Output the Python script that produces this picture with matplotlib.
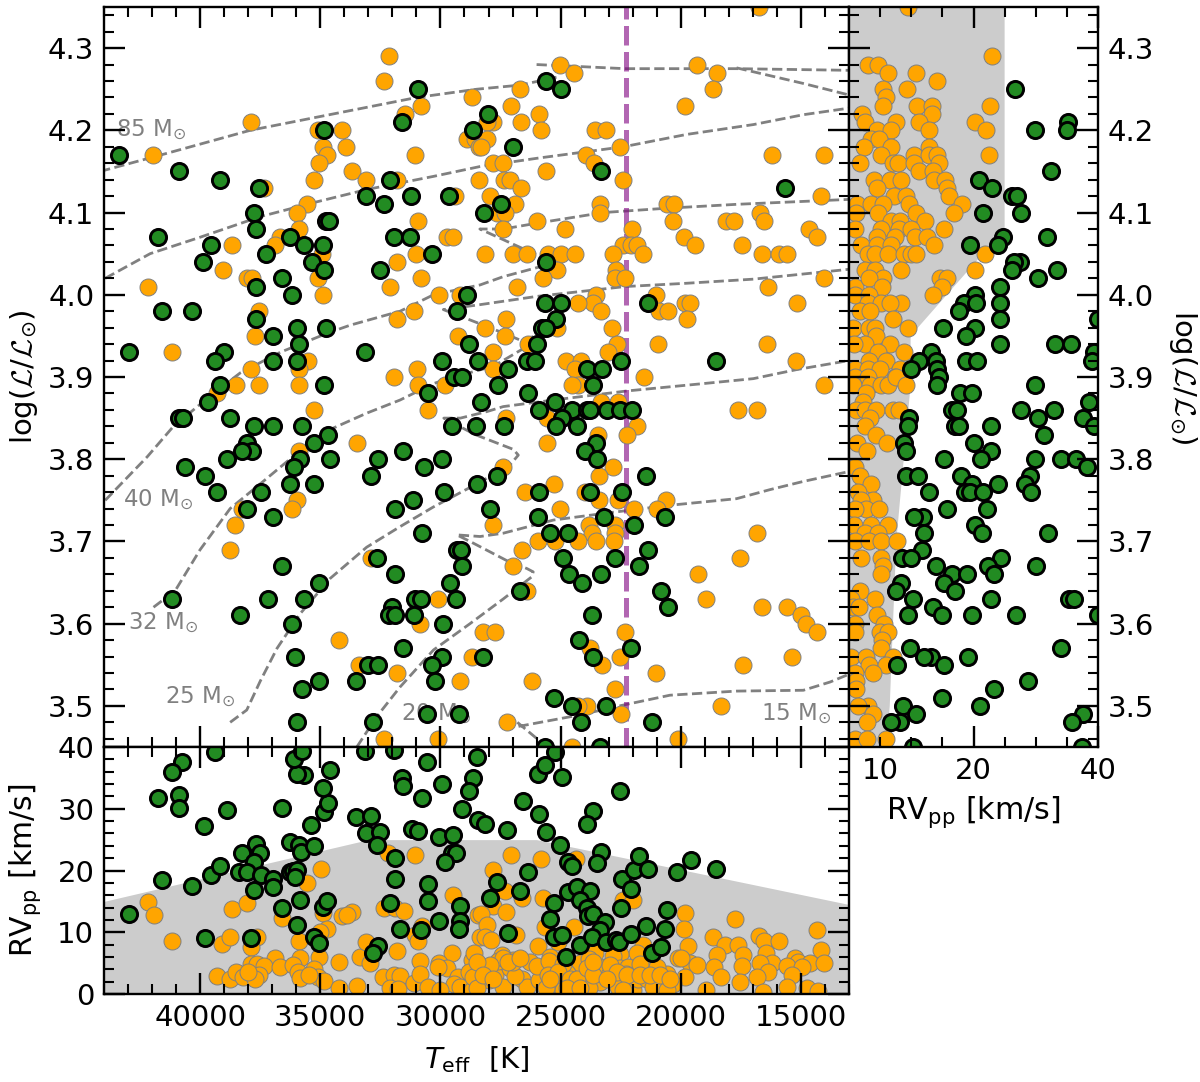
# HRD of the stars with RVpp side panels
import matplotlib
matplotlib.use('Agg')
import matplotlib.pyplot as plt
from matplotlib.ticker import MultipleLocator, FixedLocator, FixedFormatter

plt.rcParams['font.family'] = 'DejaVu Sans'
plt.rcParams['mathtext.fontset'] = 'custom'
plt.rcParams['mathtext.rm'] = 'DejaVu Sans'
plt.rcParams['mathtext.it'] = 'DejaVu Sans:italic'
plt.rcParams['mathtext.bf'] = 'DejaVu Sans:bold'
plt.rcParams['mathtext.cal'] = 'cmsy10'

# main panel (Teff, logL)
main_orange = [
    (32160,4.29),(32330,4.26),(37880,4.21),(31470,4.22),(30790,4.23),(28700,4.24),(41970,4.17),(35080,4.20),
    (34080,4.20),(34870,4.18),(33920,4.18),(34730,4.17),(35060,4.16),(33690,4.15),(35280,4.14),(33090,4.14),
    (31050,4.17),(31820,4.14),(28900,4.19),(28560,4.19),(28400,4.18),(29400,4.12),(28400,4.14),(37360,4.13),
    (35560,4.11),(35950,4.10),(35870,4.08),(36670,4.07),(36880,4.06),(38680,4.06),(39060,4.03),(38060,4.02),
    (37850,4.02),(42180,4.01),(37570,3.98),(37710,3.95),(34940,4.05),(35080,4.02),(34870,4.00),(30940,4.09),
    (29740,4.07),(29460,4.07),(31790,4.04),(31030,4.05),(30820,4.02),(32100,4.01),(30080,4.00),(29180,4.00),
    (31790,3.97),(31120,3.98),(29250,3.95),(41150,3.93),(35530,3.92),(35870,3.91),(37880,3.91),(30960,3.91),
    (31950,3.90),(38510,3.89),(39310,3.88),(37570,3.89),(35870,3.89),(30930,3.89),(29800,3.89),(35280,3.86),
    (30500,3.86),(33480,3.82),(35870,3.81),(35980,3.75),(36190,3.74),(38270,3.74),(38550,3.72),(38750,3.69),
    (32880,3.68),(30120,3.63),(30870,3.60),(34230,3.58),(33370,3.55),(31790,3.54),(28680,3.56),(29180,3.53),
    (32330,3.46),(30110,3.46),
    (25030,4.28),(24450,4.27),(26690,4.25),(27080,4.23),(25900,4.22),(27800,4.21),(28050,4.21),(26650,4.21),
    (25800,4.20),(23570,4.20),(23130,4.20),(28050,4.19),(28330,4.18),(22530,4.18),(23960,4.17),(23610,4.16),
    (27830,4.16),(27390,4.16),(25620,4.15),(22420,4.14),(27340,4.14),(27110,4.14),(26650,4.13),(27940,4.12),
    (26900,4.11),(23350,4.11),(23350,4.10),(27660,4.10),(27320,4.10),(26000,4.09),(27410,4.08),(24820,4.08),
    (22050,4.08),(19340,4.28),(18510,4.27),(18650,4.25),(19830,4.23),(16220,4.17),(14040,4.17),(14170,4.12),
    (20590,4.11),(20280,4.11),(20340,4.09),(18130,4.09),(17770,4.09),(16710,4.10),(16530,4.09),(14650,4.08),
    (14350,4.07),(19870,4.07),(19410,4.06),(17470,4.06),(16640,4.05),(15900,4.05),(15570,4.05),(22390,4.06),
    (22070,4.06),(21810,4.06),(21560,4.05),(22810,4.05),(28150,4.05),(26970,4.05),(26410,4.05),(25510,4.05),
    (25000,4.05),(24390,4.05),(25170,4.03),(25720,4.02),(26830,4.01),(22700,4.03),(22730,4.02),(22340,4.02),
    (14040,4.02),(16360,4.01),(23530,4.00),(23640,3.99),(24290,3.99),(23340,3.98),(21030,4.00),(20910,3.98),
    (20520,3.98),(19830,3.99),(19620,3.99),(19730,3.97),(15150,3.99),(27290,3.97),(28150,3.96),(27320,3.95),
    (25140,3.96),(22880,3.96),(22640,3.94),(23020,3.93),(20940,3.94),(16430,3.94),(15210,3.92),(26350,3.94),
    (27830,3.93),(27800,3.91),(24780,3.92),(24170,3.92),(24400,3.91),(21520,3.90),(16730,4.35),
    (14040,3.89),(24290,3.89),(24540,3.89),(23320,3.87),(22600,3.87),(17610,3.86),(16810,3.86),(27270,3.85),
    (25550,3.85),(23430,3.83),(21810,3.84),(22250,3.83),(25580,3.82),(22840,3.79),(23400,3.78),(27400,3.79),
    (25280,3.77),(26480,3.76),(24000,3.76),(23390,3.75),(22600,3.75),(20620,3.75),(21010,3.74),(21950,3.74),
    (25030,3.74),(27800,3.72),(23830,3.72),(22720,3.72),(22720,3.71),(23680,3.71),(16820,3.71),(25960,3.70),
    (25240,3.70),(24290,3.70),(23530,3.70),(22770,3.70),(26600,3.69),(17540,3.68),(26970,3.67),(19300,3.66),
    (26400,3.64),(18950,3.63),(16600,3.62),(15570,3.62),(15000,3.61),(14770,3.60),(14350,3.59),(28240,3.59),
    (27740,3.59),(22310,3.59),(23770,3.57),(22540,3.56),(23270,3.55),(15370,3.56),(17400,3.55),(21050,3.54),
    (26210,3.53),(22730,3.52),(18340,3.50),(23920,3.50),(24260,3.50),(22500,3.49),(27250,3.48),(20100,3.46),
    (24510,3.45),
]
main_green = [
    (30940,4.25),(31580,4.21),(34830,4.20),(28650,4.20),(43360,4.17),(40870,4.15),(39170,4.14),(37570,4.13),
    (32100,4.14),(33090,4.12),(32340,4.11),(31210,4.12),(29640,4.12),(28200,4.10),(37770,4.10),(37680,4.08),
    (34770,4.09),(34620,4.09),(41750,4.07),(39540,4.06),(39860,4.04),(37270,4.05),(36280,4.07),(35660,4.06),
    (34870,4.06),(35350,4.04),(34850,4.03),(32510,4.03),(31930,4.07),(31250,4.07),(30350,4.05),(36590,4.02),
    (36160,4.00),(37680,4.01),(41570,3.98),(40350,3.98),(28900,4.00),(29320,3.98),(28830,3.94),(37680,3.97),
    (35980,3.96),(34770,3.96),(36980,3.95),(35870,3.94),(42970,3.93),(38990,3.93),(39380,3.92),(36980,3.92),
    (35980,3.92),(33150,3.93),(29920,3.92),(28450,3.92),
    (39170,3.89),(34850,3.89),(39680,3.87),(38750,3.85),(40870,3.85),(40730,3.85),(37770,3.84),(36960,3.84),
    (35780,3.84),(34690,3.83),(35280,3.82),(38060,3.82),(37850,3.81),(38270,3.81),(38880,3.80),(35840,3.80),
    (34580,3.80),(36090,3.79),(40650,3.79),(39780,3.78),(39300,3.76),(36270,3.77),(35280,3.77),(37450,3.76),
    (38060,3.74),(36980,3.73),(29420,3.90),(29110,3.90),(30500,3.88),(28320,3.87),(29530,3.84),(28520,3.84),
    (31550,3.81),(32610,3.80),(32880,3.78),(30680,3.79),(29920,3.80),(29840,3.76),(28480,3.77),(31150,3.75),
    (31900,3.74),(30750,3.71),(36590,3.67),(32650,3.68),(31900,3.66),(29320,3.69),(29150,3.69),(29110,3.67),
    (29620,3.65),(35060,3.65),(41150,3.63),(37160,3.63),(35660,3.63),(31050,3.63),(30820,3.63),(29350,3.63),
    (32010,3.62),(32140,3.61),(31890,3.61),(31110,3.61),(29880,3.60),(38360,3.61),(36170,3.60),(31570,3.57),
    (36070,3.56),(33020,3.55),(32610,3.55),(29920,3.56),(30350,3.55),(30220,3.53),(28250,3.56),(35060,3.53),
    (33500,3.53),(35780,3.52),(30570,3.49),(29220,3.49),(35980,3.48),(32820,3.48),
    (25620,4.26),(25000,4.25),(28010,4.22),(26970,4.18),(23320,4.15),(15670,4.13),(27480,4.11),(25610,4.04),
    (25650,3.99),(25000,3.99),(21380,3.99),(25190,3.97),(25760,3.96),(25610,3.96),(25970,3.94),(26390,3.92),
    (26070,3.92),(27180,3.91),(23890,3.91),(23290,3.91),(22500,3.92),(18540,3.92),
    (27590,3.89),(23640,3.89),(26350,3.88),(25240,3.87),(25900,3.86),(24540,3.86),(23920,3.86),(23780,3.86),
    (23060,3.86),(22510,3.86),(22050,3.86),(24930,3.85),(25210,3.84),(24330,3.84),(27340,3.84),(23530,3.82),
    (23990,3.81),(23500,3.80),(21450,3.78),(27640,3.78),(25890,3.76),(23780,3.76),(22450,3.76),(27940,3.74),
    (25960,3.73),(23180,3.73),(20660,3.73),(21930,3.72),(25440,3.71),(24710,3.71),(21380,3.69),(24920,3.68),
    (22730,3.68),(21730,3.67),(24640,3.66),(23340,3.66),(24100,3.65),(26690,3.64),(20830,3.64),(20550,3.62),
    (23710,3.61),(24250,3.58),(23670,3.56),(22090,3.57),(25280,3.51),(24540,3.50),(23110,3.50),(24150,3.48),
    (21210,3.48),(25650,3.45),(23360,3.45),
]

# bottom panel (Teff, RVpp)
low_orange = [
    (42180,14.9),(41940,12.8),(41150,8.6),(38680,13.8),(38060,14.7),(39070,8.1),(38750,9.3),(37640,9.3),
    (37880,7.6),(35560,18),(34980,20.2),(36590,12.3),(34870,13.1),(33660,13.3),(34110,12.7),(33900,12.8),
    (34730,10.5),(35010,10.1),(35880,8.6),(35050,6),(35840,5.8),(36880,5.8),(34240,5.2),(33340,6),
    (32930,5),(33090,8.5),(31790,6.9),(30870,5.4),(29500,6.7),(28670,5.5),(30050,5),(29740,4.2),
    (30120,4.3),(32330,14),(31890,13.9),(31500,13.4),(31050,22.5),(32200,22.8),(29460,16),(31050,9.6),
    (30940,8.6),(30780,11),(28420,12.8),(28350,9.3),(39290,2.9),(38750,2.4),(38500,3.5),(38220,2.7),
    (37880,4.8),(37640,4.8),(37360,4.5),(37570,3.1),(37710,2.5),(37990,3.6),(36660,4.4),(36140,4.7),
    (35910,3.6),(35840,2.6),(35280,4),(35080,2.8),(34840,2.1),(35490,3.1),(34220,0.9),(33470,1.3),
    (32370,2.7),(31950,3.1),(31680,2.9),(32120,0.9),(31770,0.8),(31120,1.8),(30840,3.2),(30500,1.2),
    (29250,2.8),(29430,1.7),(29180,1.2),(28830,3.6),(28700,0.6),(30010,0.6),
    (27080,22.5),(25820,21.8),(24360,21.8),(27800,20.1),(27320,16.6),(26620,15.5),(25750,15.5),(22390,15.2),
    (22000,15.2),(27830,14.2),(28330,13),(27290,13.3),(28050,11.2),(28150,9.3),(27910,8.7),(26860,9.6),
    (25650,10.9),(24430,10.8),(25100,8.5),(19830,13.1),(19870,10.6),(17750,12.1),(18650,9.3),(18160,7.9),
    (17610,7.9),(16730,9.4),(16530,8.6),(15900,8.6),(14350,10.3),(14170,7.2),(19720,7.7),(18510,6.3),
    (16460,6.6),(17400,6.3),(20100,5.9),(21560,7.9),(21840,6.7),(22530,6.5),(22810,6.2),(23570,6.7),
    (25960,7.7),(25450,6),(28610,6.6),(27430,6.3),(26970,5.5),(26280,5.2),(19620,5),(19340,4.7),
    (18620,4.3),(17470,4.6),(16220,5.1),(16710,5),(15250,5.8),(15140,5.2),(14630,5.1),(14030,5),
    (15600,4.6),(14970,4.3),(16360,3.5),(16820,2.7),(18340,2.8),(15390,3),(17540,1.9),(15570,1.2),
    (16570,0.4),(14760,0.9),(14280,0.5),(18950,0.6),(19830,2.8),(20310,1.6),
    (28230,4.2),(27730,3.1),(27980,2.3),(28630,2.8),(28500,0.9),(27110,4.2),(27390,1.2),(26620,2.4),
    (26410,1.2),(25900,2.2),(25170,4),(25300,3.1),(25240,1.7),(24610,1.9),(24400,1.5),(24400,0.6),
    (24890,0.6),(24200,5),(23430,3.9),(23160,4.4),(22530,4.2),(22180,4.4),(23360,1.9),(22670,2.5),
    (22600,1.2),(21980,0.6),(21800,2.5),(21010,2.7),(20590,3.3),(21420,2.5),(21140,1.2),(20590,0.6),
    (21420,4.2),(21010,4.4),(26900,2.9),(26000,4.6),(25600,0.9),(24750,3.4),(24000,2.6),(23800,0.9),
    (23000,3.1),(22300,3.3),(27000,5.2),(27600,5.4),(25500,5.4),(24900,4.9),(23800,5.6),(21700,4.8),
    (27390,5.8),(27180,5.2),(26690,5.8),(27940,4.7),(28500,5.2),(28220,3.1),(27800,2.5),(25510,3.1),
    (25100,3.6),(25440,2.5),(24610,2.5),(24330,2.5),(23920,4.2),(23640,3.1),(22950,4.7),(22670,3.6),
    (22250,3.1),(21700,3.1),(21280,3.1),(20870,3.1),(20450,2.5),(19970,5.8),(24750,0.9),(24200,0.9),
    (23090,2.5),(22390,0.6),(23640,5.2),
]
low_green = [
    (39380,39.2),(40760,37.5),(41150,35.9),(41760,31.7),(40870,32.3),(40870,30.2),(38880,29.8),(39850,27.2),
    (41570,18.5),(40350,17.5),(42970,13),(39780,9.1),(37880,9.1),(39540,19.2),(39170,20.8),(37680,24.3),
    (38270,22.8),(37500,22.8),(37740,21.3),(38400,19.7),(38060,19.8),(37460,19.2),(36980,18.6),(36950,17.4),
    (37770,16.9),(36590,13.9),(35980,11.2),(35840,15.2),(35280,9.2),(35050,8.3),(34870,14.1),(34730,15.1),
    (36280,19.8),(36120,20),(35980,20.1),(36070,18.9),(36280,24.6),(35870,24.1),(35800,23),(35280,23.9),
    (35380,27.4),(34840,29.5),(34660,31),(34870,33.3),(34590,36.3),(35660,35.5),(35980,35.7),(36090,38),
    (35770,39.3),(36590,30.2),(33510,28.7),(32880,28.8),(33090,26),(32510,26.2),(32650,24.2),(31900,22),
    (31900,18.7),(32120,14.8),(32610,7.7),(32820,6.7),(33150,39.3),(31950,39.5),(31590,34.9),(31570,33.7),
    (30570,37.5),(30750,31.8),(29920,34),(29110,30),(31190,26.7),(30940,26.4),(30040,25.5),(29460,25.7),
    (29530,22.9),(29350,22.8),(29830,21.3),(30500,17.8),(30500,15.1),(31680,10.5),(30820,10.3),(30050,11.9),
    (29180,14.3),(29180,11.9),(29240,10.5),(28650,34.9),(28830,32.9),(28490,38.4),(28420,28.2),
    (28150,27.5),(27220,26.6),(26580,31.2),(25890,29.1),(25960,35.6),(25650,37.1),(25240,39.2),(24960,35.1),
    (25610,26.3),(25030,24.1),(24710,21.3),(24510,20.8),(26350,19.8),(27640,18.1),(26690,16.7),(27940,15.5),
    (27180,9.8),(25440,12.1),(25280,14.8),(24710,16.5),(24330,17.4),(23780,16.6),(24200,15.2),(23890,13.9),
    (23850,12.7),(23670,13),(23160,11.7),(23360,10.4),(25260,9.2),(24930,9.6),(24200,7.9),(24780,6),
    (23710,9.3),(23110,8.5),(22710,8.7),(22570,8.4),(22070,9.7),(21460,11),(20660,10.5),(21210,6.6),
    (20830,7.6),(20560,13.6),(22490,13.9),(22460,18.6),(22070,17),(21930,20.1),(21740,22.4),(21380,20.2),
    (20150,19.7),(19580,21.7),(18540,20.3),(22530,32.9),(23640,29.6),(23920,27.5),(23320,23),(23500,21.2),
]

# right panel (RVpp, logL)
side_orange = [
    (9.5,4.35),(3,4.28),(4.6,4.28),(6.3,4.27),(10.8,4.27),(14.1,4.26),(5.4,4.25),(9.3,4.25),(6,4.24),(5.5,4.23),
    (11,4.23),(13.3,4.23),(13.4,4.22),(22.9,4.29),(22.6,4.23),(2.1,4.22),(2.5,4.21),(7.6,4.21),(11.3,4.21),
    (20.3,4.21),(4.5,4.20),(6.8,4.20),(12.9,4.20),(22,4.20),(3.6,4.19),(4.8,4.19),(2.4,4.18),(6.7,4.18),
    (12.9,4.18),(22.5,4.17),(10.5,4.17),(5.1,4.17),(12.9,4.17),(14.1,4.17),(1.8,4.16),(7,4.16),(7.9,4.16),
    (10.4,4.16),(14.4,4.16),(11.3,4.15),(13.5,4.15),(4,4.14),(6.6,4.14),(8.4,4.14),(13.7,4.14),(15.4,4.14),
    (4.5,4.13),(15.7,4.13),(7.3,4.12),(9.1,4.12),(16.1,4.12),(1.3,4.11),(3.6,4.11),(5.5,4.11),(9.6,4.11),
    (18.2,4.11),(1.2,4.10),(4.7,4.10),(10.8,4.10),(16.8,4.10),(6.8,4.09),(8.2,4.09),(12.2,4.09),(0.9,4.08),
    (5.2,4.08),(8,4.08),(10,4.08),(15.3,4.08),(4.5,4.07),(7.4,4.07),(10.6,4.07),(12.6,4.07),(1.9,4.06),
    (4.5,4.06),(6.7,4.06),(13.7,4.06),(3.1,4.05),(4.1,4.05),(6.3,4.05),(8.8,4.05),(10,4.05),(10.7,4.05),
    (21.9,4.05),(2.6,4.03),(4.1,4.03),(8.3,4.03),(20.3,4.03),(14.6,4.02),(15.7,4.02),(5.5,4.02),(0.9,4.01),
    (3.2,4.02),(5.3,4.01),(15,4.01),(0.9,4.00),(3.2,4.00),(13.5,4.00),(3,3.99),(5.2,3.99),(8.4,3.99),
    (6.6,3.99),(1.8,3.98),(3.3,3.98),(0.6,3.96),(3.2,3.96),(4.1,3.96),(7.1,3.97),(9.4,3.96),(4.4,3.95),
    (2.5,3.94),(6.6,3.94),(0.8,3.94),(4.7,3.93),(8.8,3.93),(3.2,3.92),(6,3.92),(0.9,3.91),(3.1,3.91),
    (5,3.91),(8.2,3.91),(7.4,3.90),(0.9,3.90),(3.1,3.90),(0.6,3.89),(3.3,3.89),(5.1,3.89),(6.3,3.89),
    (7.6,3.90),(9.2,3.89),(2.8,3.88),(2.3,3.87),(1.2,3.86),(2.6,3.86),(4.3,3.86),(7.1,3.86),(8,3.86),
    (3.3,3.85),(2.5,3.84),(4.4,3.83),(1.3,3.82),(6.1,3.82),(2.9,3.81),(0.9,3.79),(1.7,3.78),(3.5,3.77),
    (1.5,3.76),(3.9,3.75),(2,3.75),(2.8,3.74),(4.8,3.74),(0.9,3.74),(0.75,3.72),(3.5,3.72),(6.2,3.72),
    (2.6,3.71),(4.7,3.71),(0.9,3.70),(3.2,3.70),(5.1,3.70),(7.7,3.70),(2,3.68),(5.2,3.68),(5.4,3.67),
    (5.2,3.66),(1.7,3.64),(4.2,3.63),(0.4,3.63),(0.65,3.62),(1.6,3.62),(4.5,3.61),(0.9,3.60),(0.9,3.59),
    (5.6,3.60),(5,3.59),(6.3,3.59),(5.3,3.58),(5.2,3.57),(0.4,3.56),(2.8,3.56),(7.1,3.56),(3.2,3.55),
    (6,3.55),(3.8,3.54),(0.9,3.54),(1.2,3.53),(1.2,3.52),(3.1,3.50),(1.5,3.50),(3.8,3.49),(2.9,3.48),
    (0.9,3.46),(2.9,3.46),(6,3.46),
]
side_green = [
    (26.6,4.25),(35.2,4.21),(35,4.20),(29.8,4.20),(32.5,4.15),(20.9,4.14),(23,4.13),(26.2,4.12),(27,4.12),
    (21.5,4.10),(27.7,4.10),(31.8,4.07),(24.7,4.07),(23.9,4.06),(19.4,4.06),(27.5,4.04),(26.5,4.04),(26.2,4.03),
    (33.4,4.03),(30.3,4.02),(24.3,4.01),(20.3,4.00),(18.4,3.99),(20.4,3.99),(24.2,3.99),(17.7,3.98),(24.3,3.97),
    (15.1,3.96),(20.3,3.96),(18.8,3.95),(24.2,3.94),(33.1,3.94),(35.7,3.94),(40,3.97),(39.4,3.93),(39.1,3.92),
    (13.2,3.93),(11.2,3.92),(9.9,3.91),(13.9,3.92),(14.2,3.91),(18.8,3.92),(20.5,3.92),(14.4,3.90),
    (14.2,3.89),(29.8,3.89),(17.9,3.88),(19.8,3.88),(38.5,3.87),(16.6,3.86),(17.3,3.86),(27.7,3.86),(33,3.86),
    (9.6,3.85),(30.3,3.85),(37.6,3.85),(9.5,3.84),(17,3.84),(17.7,3.84),(22.8,3.84),(39.4,3.84),(31.3,3.83),
    (8.9,3.82),(20,3.82),(9.2,3.81),(22.8,3.81),(21.2,3.80),(15.3,3.80),(29.9,3.80),(34.1,3.80),(36.5,3.80),
    (38.3,3.79),(9.2,3.78),(11.1,3.78),(18,3.78),(29,3.78),(19.7,3.77),(24,3.77),(28.3,3.77),(18.7,3.76),
    (19.5,3.76),(21.5,3.76),(29.3,3.76),(12.9,3.76),(22.2,3.74),(15.7,3.74),(11.9,3.73),(10.5,3.73),(20.2,3.72),
    (21.3,3.71),(12.1,3.71),(31.9,3.71),(11.8,3.69),(8.5,3.68),(9.9,3.68),(24.4,3.68),(13.9,3.67),(22.4,3.67),
    (30,3.67),(16.6,3.66),(18.9,3.66),(23.3,3.66),(15.2,3.65),(8.4,3.65),(7.5,3.64),(17,3.64),(10.3,3.63),
    (22.8,3.63),(35.4,3.63),(36.1,3.63),(13.5,3.62),(9.4,3.61),(14.9,3.61),(19.8,3.61),(26.9,3.61),(40,3.61),
    (9.8,3.57),(13.2,3.56),(12.1,3.56),(19.1,3.56),(15.3,3.55),(7.7,3.55),(34,3.57),(28.8,3.53),(23.3,3.52),
    (14.9,3.51),(21,3.50),(8.6,3.50),(10.7,3.49),(8.2,3.48),(6.8,3.48),(37.6,3.49),(35.9,3.48),(10.3,3.45),
    (37.4,3.45),
]

# evolutionary tracks
track_85 = [(44160,4.15),(41390,4.172),(37920,4.20),(34450,4.22),(30980,4.24),(28490,4.25),(26690,4.255),(25100,4.265)]
track_85b = [(26000,4.28),(22320,4.275),(17680,4.275),(13000,4.273)]
track_85c = [(17680,4.276),(14900,4.257),(13000,4.243)]
track_60 = [(43950,4.02),(42080,4.05),(40000,4.07),(37500,4.095),(35150,4.113),(33070,4.128),(30290,4.144),(28350,4.156),
            (25990,4.166),(22390,4.18),(19760,4.195),(16980,4.207),(14900,4.219),(13000,4.227)]
track_40 = [(43950,3.75),(42200,3.803),(41110,3.84),(39450,3.88),(38330,3.905),(36670,3.93),(34730,3.953),(33760,3.963),
            (31680,3.98),(30290,4.00),(28350,4.012),(27390,4.022),(25860,4.034),(25510,4.042),(28360,4.08),(27390,4.08),
            (26000,4.087),(23225,4.10),(20730,4.105),(17680,4.11),(13000,4.116)]
track_32 = [(41940,3.62),(41040,3.64),(40000,3.69),(38750,3.74),(37500,3.77),(35980,3.807),(34450,3.838),(33070,3.856),
            (31680,3.872),(30290,3.892),(29460,3.90),(27800,3.913),(26410,3.937),(26000,3.95),(26690,3.945),(27940,3.96),
            (29880,3.982),(28350,3.988),(26000,3.998),(22320,4.01),(19760,4.014),(16980,4.019),(13000,4.031)]
track_25 = [(38750,3.48),(38060,3.495),(37500,3.53),(36800,3.57),(35840,3.612),(34590,3.655),(33070,3.693),(31680,3.718),
            (30290,3.742),(28490,3.77),(27940,3.779),(27110,3.793),(26760,3.805),(26970,3.812),(28560,3.83),(29860,3.85),
            (29170,3.85),(28060,3.858),(27390,3.864),(25300,3.872),(22250,3.883),(19060,3.892),(16980,3.898),(15180,3.909),(13000,3.92)]
track_20 = [(33480,3.45),(32650,3.487),(31680,3.523),(30290,3.568),(28770,3.60),(27390,3.63),(26200,3.657),(26140,3.663),
            (26400,3.667),(27260,3.677),(28770,3.70),(29320,3.708),(28350,3.706),(27390,3.71),(25300,3.726),(23225,3.734),
            (20450,3.744),(17680,3.752),(16290,3.763),(14900,3.773),(13000,3.785)]
track_15 = [(25000,3.44),(25650,3.452),(26800,3.48),(26760,3.475),(24200,3.489),(22390,3.501),(20450,3.513),(17680,3.518),
            (14900,3.519),(13790,3.529),(12960,3.539)]
tracks = [track_85, track_85b, track_85c, track_60, track_40, track_32, track_25, track_20, track_15]

track_labels = ['85', '40', '32', '25', '20', '15']
label_teff = [43500, 43200, 43000, 41450, 31650, 16650]
label_logl = [4.20, 3.75, 3.60, 3.51, 3.49, 3.49]

# limits of the shaded region
shade_teff = [44000, 33000, 26000, 13000]
shade_rv = [15, 25, 25, 14.5]
shade_side_rv = [0, 25, 25, 9.9, 9.9, 8.55, 7.6, 6.8, 6.55, 6.0, 0]
shade_side_logl = [4.35, 4.35, 4.08, 3.95, 3.89, 3.78, 3.70, 3.55, 3.50, 3.45, 3.45]
teff_limit = 22300

W, H = 1200.0, 1082.0
fig = plt.figure(figsize=(12, 10.82), dpi=100)
ax = fig.add_axes([104/W, 1-747/H, 745/W, 740/H])
ax2 = fig.add_axes([104/W, 1-994/H, 745/W, 247/H])
ax3 = fig.add_axes([849/W, 1-747/H, 249/W, 740/H])


def dots(a, pts, kind):
    x = [p[0] for p in pts]
    y = [p[1] for p in pts]
    if kind == 'o':
        a.scatter(x, y, s=150, c='orange', edgecolors='gray', linewidths=0.7, zorder=1)
    else:
        a.scatter(x, y, s=135, c='forestgreen', edgecolors='k', linewidths=2.1, zorder=1.1)


for tr in tracks:
    ax.plot([p[0] for p in tr], [p[1] for p in tr], '--', color='gray', lw=2, zorder=0.5)
ax.axvline(teff_limit, color='purple', alpha=0.6, lw=3.6, dashes=(3.9, 1.3), zorder=0.8)
for name, tx, ty in zip(track_labels, label_teff, label_logl):
    ax.text(tx, ty, name + r' M$_{\odot}$', color='gray', fontsize=16.5, ha='left', va='center', zorder=0.9)

dots(ax, main_orange, 'o')
dots(ax, main_green, 'g')
ax2.fill_between(shade_teff, 0, shade_rv, color='k', alpha=0.2, lw=0, zorder=0.5)
dots(ax2, low_orange, 'o')
dots(ax2, low_green, 'g')
ax3.fill(shade_side_rv, shade_side_logl, color='k', alpha=0.2, lw=0, zorder=0.5)
dots(ax3, side_orange, 'o')
dots(ax3, side_green, 'g')

for a in (ax, ax2):
    a.set_xlim(44000, 13000)
    a.xaxis.set_major_locator(MultipleLocator(5000))
    a.xaxis.set_minor_locator(MultipleLocator(1000))
for a in (ax, ax3):
    a.set_ylim(3.45, 4.35)
    a.yaxis.set_major_locator(MultipleLocator(0.1))
    a.yaxis.set_minor_locator(MultipleLocator(0.02))
ax2.set_ylim(0, 40)
ax2.yaxis.set_major_locator(MultipleLocator(10))
ax2.yaxis.set_minor_locator(MultipleLocator(2))
ax3.set_xlim(0, 40)
ax3.xaxis.set_major_locator(FixedLocator([20, 40]))
ax3.xaxis.set_minor_locator(FixedLocator([5, 10, 15, 25, 30, 35]))
ax3.xaxis.set_minor_formatter(FixedFormatter(['10', '', '', '', '', '']))

for a in (ax, ax2, ax3):
    a.tick_params(which='both', direction='in', top=True, right=True, labelsize=21, pad=7)
    a.tick_params(which='major', length=15, width=1.7)
    a.tick_params(which='minor', length=7.5, width=1.5, labelsize=21, pad=7)
    for sp in a.spines.values():
        sp.set_linewidth(1.7)
ax.tick_params(labelbottom=False)
ax3.tick_params(labelleft=False, labelright=True)

ax.set_ylabel(r'log($\mathcal{L}/\mathcal{L}_{\odot}$)', fontsize=21)
ax.yaxis.set_label_coords(-0.086, 0.5)
ax2.set_ylabel(r'RV$_{\rm pp}$ [km/s]', fontsize=21.5)
ax2.yaxis.set_label_coords(-0.082, 0.5)
ax2.set_xlabel(r'$T_{\rm eff}$  [K]', fontsize=21)
ax2.xaxis.set_label_coords(0.5, -0.205)
ax3.set_xlabel(r'RV$_{\rm pp}$ [km/s]', fontsize=21.7)
ax3.xaxis.set_label_coords(0.5, -0.064)
ax3.yaxis.set_label_position('right')
ax3.set_ylabel(r'log($\mathcal{L}/\mathcal{L}_{\odot}$)', fontsize=21, rotation=270, va='center')
ax3.yaxis.set_label_coords(1.34, 0.5)

fig.savefig('out.png', dpi=100)
